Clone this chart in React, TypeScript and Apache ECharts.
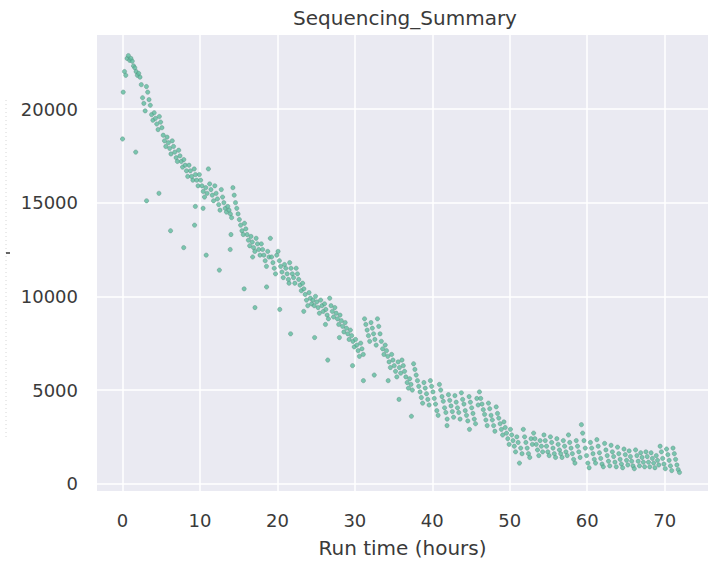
import React, { useEffect, useRef } from 'react';
import * as echarts from 'echarts';

// Main band: one row per run hour, six readings per hour (10-minute sampling)
const bandRows: number[][] = [
  [20900, 22000, 21800, 22700, 22850, 22600],
  [22700, 22550, 22300, 22200, 22000, 21800],
  [21900, 21700, 21300, 20600, 20300, 19900],
  [21200, 20900, 20500, 20200, 19700, 19400],
  [19800, 19500, 19200, 18900, 19600, 19300],
  [19000, 18600, 18300, 18000, 18500, 18200],
  [17900, 17600, 18300, 18000, 17700, 17400],
  [17200, 17800, 17500, 17200, 16900, 17300],
  [17000, 16700, 16400, 17000, 16700, 16400],
  [16200, 16800, 16500, 16200, 15900, 16500],
  [16200, 15900, 15600, 15300, 15800, 15500],
  [16800, 16000, 15700, 15400, 15100, 15900],
  [15500, 15200, 14900, 14600, 15700, 15300],
  [15000, 14700, 14500, 14800, 14600, 14400],
  [14200, 15800, 15400, 15000, 14700, 14400],
  [14100, 13800, 13500, 13300, 13900, 13600],
  [13300, 13000, 12700, 13200, 12900, 12600],
  [12400, 13100, 12800, 12500, 12200, 12800],
  [12500, 12200, 11900, 11600, 12400, 12100],
  [13100, 12100, 11800, 11500, 11200, 12200],
  [12400, 11900, 11600, 11300, 11000, 11700],
  [11500, 11200, 10900, 11800, 11500, 11200],
  [11000, 10700, 11500, 11200, 10900, 10600],
  [10300, 10700, 10400, 10100, 9800, 9500],
  [10200, 9900, 9600, 9800, 9500, 10000],
  [9700, 9400, 9100, 9800, 9500, 9200],
  [9600, 9300, 9000, 8800, 9900, 9500],
  [9200, 8900, 9400, 9100, 8800, 8500],
  [9000, 8700, 8400, 8100, 8600, 8300],
  [8000, 7700, 8200, 7900, 7600, 7300],
  [7700, 7400, 7100, 6800, 7500, 7200],
  [6900, 8800, 8500, 8200, 7900, 7600],
  [8600, 8300, 8000, 7700, 7400, 8800],
  [8400, 8000, 7600, 7200, 6900, 7400],
  [7100, 6800, 6500, 6200, 6900, 6600],
  [6300, 6000, 5700, 6500, 6200, 5900],
  [6600, 6300, 6000, 5700, 5400, 5100],
  [5600, 5300, 5000, 6400, 6100, 5800],
  [5500, 5200, 4900, 4600, 4300, 5400],
  [5100, 4800, 4500, 4200, 5500, 5200],
  [4900, 4550, 4250, 3900, 3650, 5300],
  [5000, 4650, 4400, 4050, 3800, 3450],
  [4750, 4450, 4150, 3850, 3550, 4700],
  [4350, 4050, 3800, 3450, 4850, 4500],
  [4250, 3900, 3650, 3350, 4650, 4350],
  [4050, 3750, 3450, 3200, 4550, 4200],
  [4900, 4550, 4250, 3950, 3700, 3400],
  [3100, 4300, 4000, 3650, 3400, 3100],
  [2800, 4100, 3750, 3500, 3200, 2900],
  [2600, 3300, 3000, 2700, 2400, 2100],
  [2900, 2600, 2300, 2000, 1700, 2500],
  [2200, 1100, 1900, 1600, 2900, 2500],
  [2200, 1900, 1600, 1400, 2400, 2100],
  [2700, 2400, 2100, 1800, 1500, 2300],
  [2000, 1700, 2600, 2300, 2000, 1700],
  [1500, 2500, 2200, 1900, 1600, 1400],
  [2400, 2100, 1800, 1600, 1400, 2300],
  [2000, 1700, 1500, 2600, 2200, 1900],
  [1600, 1300, 1100, 2300, 2000, 1700],
  [1400, 3150, 2700, 2300, 1900, 1500],
  [1100, 850, 2200, 1900, 1600, 1300],
  [1100, 2350, 2000, 1650, 1350, 1050],
  [900, 2150, 1800, 1500, 1200, 950],
  [2050, 1700, 1450, 1150, 900, 1950],
  [1600, 1300, 1050, 850, 1850, 1550],
  [1250, 1000, 1750, 1450, 1200, 950],
  [800, 1800, 1500, 1200, 950, 1650],
  [1400, 1150, 900, 1700, 1450, 1150],
  [900, 1650, 1350, 1100, 850, 1500],
  [1250, 1000, 2000, 1700, 1350, 1050],
  [800, 1850, 1550, 1250, 950, 700],
  [1900, 1600, 1300, 1000, 750, 600],
];

// Low readings below the main band: [run time (h), yield]
const lowPoints: [number, number][] = [
  [0.0, 18400], [1.7, 17700], [3.1, 15100], [4.7, 15500], [6.2, 13500],
  [7.9, 12600], [9.3, 13800], [9.4, 14800], [10.4, 14700], [10.8, 12200],
  [12.5, 11400], [13.9, 12500], [14.0, 13300], [15.7, 10400], [16.8, 12100],
  [17.1, 9400], [18.6, 10500], [20.3, 9300], [21.5, 10700], [21.7, 8000],
  [23.4, 9200], [24.8, 7800], [26.2, 8500], [26.5, 6600], [28.0, 7800],
  [29.7, 6300], [31.1, 5500], [32.5, 5800], [34.3, 5500], [35.7, 4500],
  [37.3, 3600], [41.9, 3100], [44.8, 2900],
];

const xTickValues = [0, 10, 20, 30, 40, 50, 60, 70];
const yTickValues = [0, 5000, 10000, 15000, 20000];
const readingsPerHour = 6;

const FONT = 'DejaVu Sans';
const TEXT = '#3a3a3a';

export default function App() {
  const ref = useRef<HTMLDivElement>(null);

  useEffect(() => {
    if (!ref.current) return;
    const chart = echarts.init(ref.current, undefined, { renderer: 'svg' });

    const bandData: [number, number][] = [];
    bandRows.forEach((row, h) => {
      row.forEach((v, k) => {
        bandData.push([h + (2 * k + 1) / (2 * readingsPerHour), v]);
      });
    });

    const pointStyle = {
      color: '#5cbb9c',
      borderColor: '#5a8a80',
      borderWidth: 0.5,
    };

    chart.setOption({
      animation: false,
      backgroundColor: '#ffffff',
      grid: {
        left: 97,
        right: -10,
        top: 35,
        bottom: 68,
        show: true,
        backgroundColor: '#EAEAF2',
        borderWidth: 0,
      },
      xAxis: {
        type: 'value',
        min: -3.3,
        max: 75.6,
        splitNumber: 8,
        axisLine: { show: false },
        axisTick: { show: false },
        axisLabel: {
          fontSize: 18,
          fontFamily: FONT,
          color: TEXT,
          margin: 20,
          showMinLabel: false,
          showMaxLabel: false,
          formatter: (v: number) => (xTickValues.includes(v) ? String(v) : ''),
        },
        splitLine: {
          show: true,
          showMinLine: false,
          showMaxLine: false,
          lineStyle: { color: '#ffffff', width: 1.5 },
        },
        name: 'Run time (hours)',
        nameLocation: 'middle',
        nameGap: 47,
        nameTextStyle: { fontSize: 20, fontFamily: FONT, color: TEXT },
      },
      yAxis: {
        type: 'value',
        min: -390,
        max: 23950,
        splitNumber: 5,
        axisLine: { show: false },
        axisTick: { show: false },
        axisLabel: {
          fontSize: 18,
          fontFamily: FONT,
          color: TEXT,
          margin: 19,
          showMinLabel: false,
          showMaxLabel: false,
          formatter: (v: number) => (yTickValues.includes(v) ? String(v) : ''),
        },
        splitLine: {
          show: true,
          showMinLine: false,
          showMaxLine: false,
          lineStyle: { color: '#ffffff', width: 1.5 },
        },
      },
      graphic: [
        {
          type: 'text',
          x: 405,
          y: 18,
          style: {
            text: 'Sequencing_Summary',
            fontSize: 20,
            fontFamily: FONT,
            fill: TEXT,
            textAlign: 'center',
            textVerticalAlign: 'middle',
          },
        },
        {
          type: 'line',
          shape: { x1: 6, y1: 100, x2: 6, y2: 440 },
          style: { stroke: '#d6d6d6', lineWidth: 1, lineDash: [1, 3] },
        },
        {
          type: 'line',
          shape: { x1: 6, y1: 253, x2: 10, y2: 253 },
          style: { stroke: '#333333', lineWidth: 1.5 },
        },
      ],
      series: [
        {
          type: 'scatter',
          data: bandData,
          symbol: 'circle',
          symbolSize: 4.3,
          itemStyle: pointStyle,
        },
        {
          type: 'scatter',
          data: lowPoints,
          symbol: 'circle',
          symbolSize: 4.3,
          itemStyle: pointStyle,
        },
      ],
    });

    return () => chart.dispose();
  }, []);

  return (
    <div
      ref={ref}
      style={{ position: 'fixed', left: 0, top: 0, width: 708, height: 563 }}
    />
  );
}
